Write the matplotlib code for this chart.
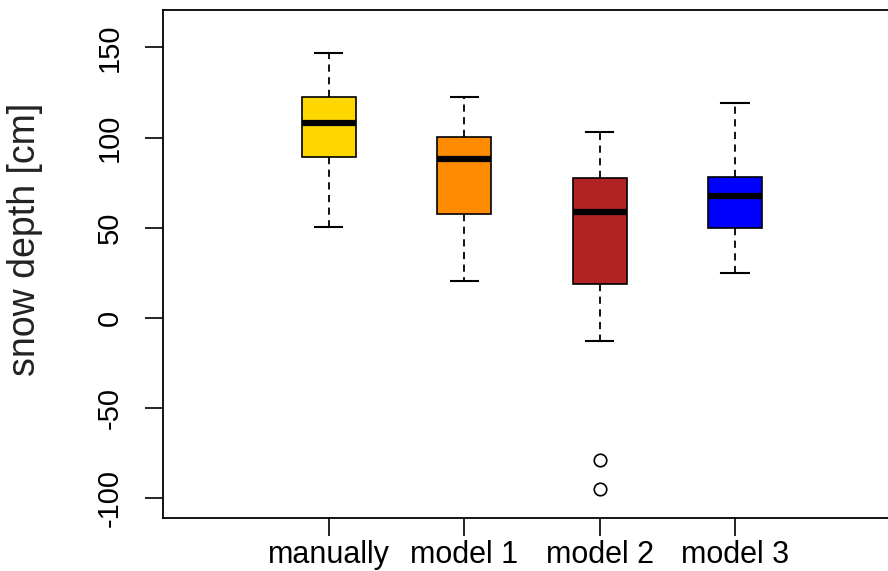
import matplotlib
matplotlib.use("Agg")
import matplotlib.pyplot as plt

# values (cm)
groups = ["manually", "model 1", "model 2", "model 3"]
whisker_lo = [50.6, 20.7, -12.6, 24.8]
q1 = [89.0, 57.6, 18.8, 50.0]
medians = [108.0, 88.0, 58.6, 67.8]
q3 = [122.7, 100.5, 77.4, 78.3]
whisker_hi = [147.0, 122.7, 103.0, 119.4]
outliers = [[], [], [-78.7, -94.8], []]
colors = ["#FFD700", "#FF8C00", "#B22222", "#0000FF"]

plt.rcParams['font.family'] = ['Liberation Sans', 'DejaVu Sans']
plt.rcParams['axes.unicode_minus'] = False

fig = plt.figure(figsize=(8.88, 5.71), dpi=100)
ax = fig.add_axes([163 / 888, 1 - 518 / 571, 1 - 163 / 888, (518 - 10) / 571])

stats = []
for i in range(len(groups)):
    stats.append(dict(med=medians[i], q1=q1[i], q3=q3[i],
                      whislo=whisker_lo[i], whishi=whisker_hi[i],
                      fliers=outliers[i], label=groups[i]))

pos = list(range(1, len(groups) + 1))
res = ax.bxp(stats, positions=pos, widths=0.4, patch_artist=True,
             boxprops=dict(edgecolor="black", linewidth=1.2),
             medianprops=dict(color="black", linewidth=4.5, solid_capstyle="butt"),
             whiskerprops=dict(color="black", linestyle=(0, (4, 3)), linewidth=1.3),
             capprops=dict(color="black", linewidth=1.5),
             capwidths=0.2,
             flierprops=dict(marker="o", markerfacecolor="none",
                             markeredgecolor="black", markersize=9, markeredgewidth=1.2))
for patch, c in zip(res["boxes"], colors):
    patch.set_facecolor(c)

ax.set_xlim(-0.225, 5.13)
ax.set_ylim(-110.9, 170.7)
ax.set_yticks([-100, -50, 0, 50, 100, 150])
ax.set_xticks(pos)
ax.set_xticklabels(groups)
ax.spines["right"].set_visible(False)
for s in ["left", "top", "bottom"]:
    ax.spines[s].set_linewidth(1.3)

ax.tick_params(axis="y", length=13, width=1.2, pad=15, labelsize=21,
               labelrotation=90)
ax.tick_params(axis="x", length=13, width=1.2, pad=3, labelsize=22)
for lab in ax.get_yticklabels():
    lab.set_verticalalignment("center")
ax.set_ylabel("snow depth [cm]", fontsize=27, color="#222222")
ax.yaxis.set_label_coords(-0.165, 0.548)

fig.savefig("out.png", dpi=100)
